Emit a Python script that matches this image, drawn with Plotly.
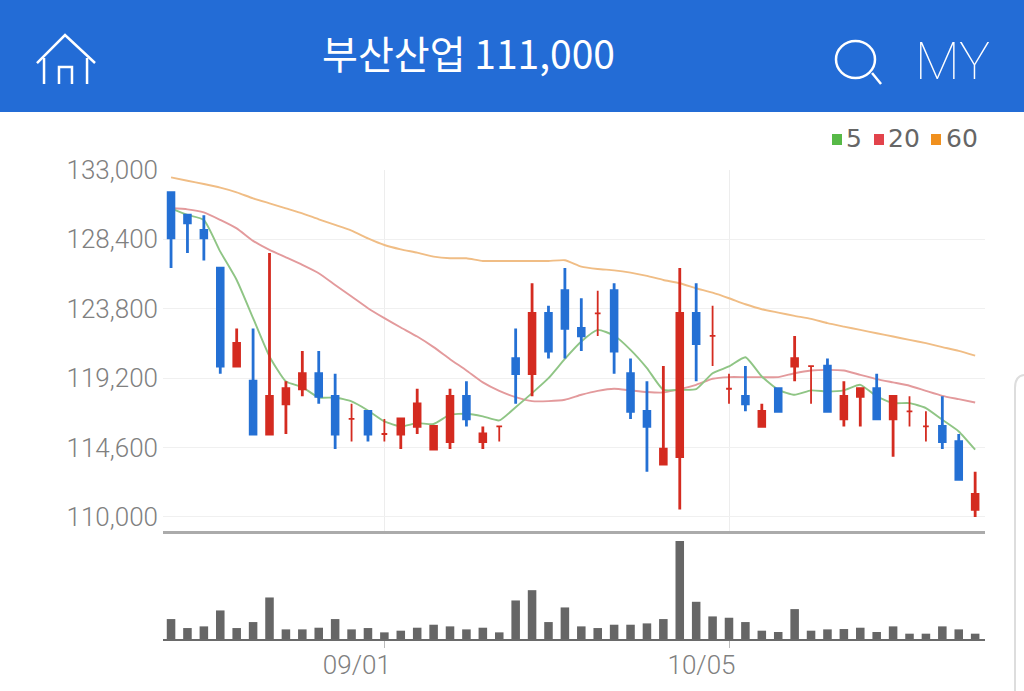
import plotly.graph_objs as go

W, H = 1024, 691

dates = ["08/12", "08/13", "08/14", "08/18", "08/19", "08/20", "08/21", "08/24", "08/25", "08/26",
         "08/27", "08/28", "08/31", "09/01", "09/02", "09/03", "09/04", "09/07", "09/08", "09/09",
         "09/10", "09/11", "09/14", "09/15", "09/16", "09/17", "09/18", "09/21", "09/22", "09/23",
         "09/24", "09/25", "09/28", "09/29", "10/05", "10/06", "10/07", "10/08", "10/12", "10/13",
         "10/14", "10/15", "10/16", "10/19", "10/20", "10/21", "10/22", "10/23", "10/26", "10/27"]

opens = [131500, 130000, 129000, 126500, 120000, 119000, 115500, 117500, 118500, 119500,
         118000, 116500, 117000, 115500, 115500, 116000, 114500, 115000, 118000, 115000,
         116000, 120500, 119500, 123500, 125000, 122500, 123500, 125000, 119500, 117000,
         113500, 114000, 123500, 122000, 118500, 118000, 116000, 118500, 120000, 120000,
         120000, 116500, 118000, 118500, 116500, 117000, 116000, 116000, 115000, 110500]
highs = [131500, 130000, 130000, 126500, 122500, 122500, 127500, 119000, 121000, 121000,
         119500, 117500, 117000, 116500, 116500, 118500, 116000, 118500, 119000, 116000,
         116000, 122500, 125500, 124000, 126500, 124500, 125000, 125500, 120500, 119000,
         120000, 126500, 125500, 124000, 119500, 120000, 117500, 118500, 122000, 120000,
         120500, 119000, 118500, 119500, 118000, 118000, 117000, 118000, 115500, 113000]
lows = [126500, 127500, 127000, 119500, 120000, 115500, 115500, 115500, 118000, 117500,
        114500, 115000, 115000, 115000, 114500, 115500, 114500, 114500, 116000, 114500,
        115000, 117500, 118000, 120500, 120500, 121000, 122000, 119500, 116500, 113000,
        113500, 110500, 119000, 120000, 117500, 117000, 116000, 117000, 119000, 117500,
        117000, 116000, 116000, 116500, 114000, 116000, 115000, 114500, 112500, 110000]
closes = [128500, 129500, 128500, 120000, 121500, 115500, 118000, 118500, 119500, 118000,
          115500, 116500, 115500, 115500, 116500, 117500, 116000, 118000, 116500, 115500,
          116000, 119500, 123500, 121000, 122500, 122000, 123500, 121000, 117000, 116000,
          114500, 123500, 121500, 122000, 118500, 117500, 117000, 117000, 120500, 120000,
          117000, 118000, 118500, 116500, 118000, 117000, 116000, 115000, 112500, 111500]

ma5 = [130460, 130020, 129690, 127590, 125710, 123180, 120640, 118980, 118610, 117920,
       117920, 117660, 117060, 116330, 116000, 116220, 116160, 116780, 116840, 116670,
       116400, 117280, 118210, 119200, 120480, 121630, 122400, 122030, 121080, 119870,
       118430, 118430, 118470, 119530, 119980, 120590, 119310, 118430, 118100, 118390,
       118320, 118390, 118760, 117990, 117550, 117550, 117220, 116440, 115670, 114460]
ma20 = [130460, 130390, 130190, 129690, 129130, 128300, 127700, 127210, 126710, 126160,
        125380, 124610, 123840, 123180, 122560, 121960, 121260, 120460, 119710, 118920,
        118360, 117950, 117680, 117680, 117770, 118100, 118360, 118500, 118390, 118280,
        118250, 118470, 118760, 119160, 119270, 119270, 119270, 119270, 119530, 119710,
        119750, 119710, 119420, 119140, 118920, 118700, 118360, 118030, 117810, 117590]
ma60 = [132510, 132290, 132070, 131830, 131520, 131120, 130790, 130460, 130130, 129730,
        129360, 128980, 128470, 128030, 127740, 127520, 127260, 127150, 127150, 126970,
        126970, 126970, 126970, 126970, 127020, 126600, 126440, 126350, 126200, 125980,
        125710, 125490, 125160, 124870, 124500, 124100, 123770, 123550, 123330, 123130,
        122850, 122620, 122400, 122180, 121960, 121740, 121520, 121260, 121010, 120700]
volumes = [60, 33, 38, 86, 33, 51, 125, 29, 29, 34, 60, 29, 33, 20, 25, 34, 43, 38, 29, 34,
           20, 116, 147, 51, 95, 38, 33, 43, 43, 47, 60, 295, 112, 68, 64, 51, 25, 21, 90, 25,
           29, 30, 34, 21, 38, 16, 16, 38, 29, 16]

price_ticks = [110000, 114600, 119200, 123800, 128400, 133000]
date_ticks = ["09/01", "10/05"]

BLUE = "#2470d4"
RED = "#d42b20"
PRICE_RANGE = [109070, 133000]
X_RANGE = [-0.49, 49.6]


def fx(px):
    return px / W


def fy(px):
    return 1 - px / H


fig = go.Figure()

for name, vals, color in [("60", ma60, "#f0bd85"), ("20", ma20, "#e39a9c"), ("5", ma5, "#8fc585")]:
    fig.add_trace(go.Scatter(x=dates, y=vals, name=name, mode="lines",
                             line=dict(color=color, width=1.9, shape="spline", smoothing=0.5),
                             hoverinfo="skip"))

# red = rose, blue = fell (Korean colours); flat days get a thin red cross
kinds = [
    (lambda o, c: c > o, RED, 2.8),
    (lambda o, c: c < o, BLUE, 2.8),
    (lambda o, c: c == o, RED, 1.8),
]
for test, color, width in kinds:
    idx = [i for i in range(len(dates)) if test(opens[i], closes[i])]
    fig.add_trace(go.Candlestick(
        x=[dates[i] for i in idx], open=[opens[i] for i in idx], high=[highs[i] for i in idx],
        low=[lows[i] for i in idx], close=[closes[i] for i in idx],
        yaxis="y3", whiskerwidth=0,
        increasing=dict(line=dict(color=color, width=width), fillcolor=color),
        decreasing=dict(line=dict(color=color, width=width), fillcolor=color),
    ))

fig.add_trace(go.Bar(x=dates, y=volumes, xaxis="x2", yaxis="y2", width=0.52,
                     marker=dict(color="#666666", line=dict(width=0))))

tick_font = dict(family="Roboto", size=26, color="#808080", weight=300)

# header bar and icons, all in page pixels
shapes = [
    dict(type="rect", xref="paper", yref="paper", x0=0, x1=1, y0=fy(112), y1=1,
         fillcolor="#236cd6", line_width=0, layer="below"),
]
white = dict(color="white", width=2.5)
home = [(37, 63), (65, 35), (95, 63)]
lines = [
    [(44, 58), (44, 84)], [(87, 58), (87, 84)], [(59, 84), (59, 67), (72, 67), (72, 84)],
    [(872, 73), (881, 84)], home,
]
for pts in lines:
    path = "M " + " L ".join("%.4f,%.4f" % (fx(a), fy(b)) for a, b in pts)
    shapes.append(dict(type="path", path=path, line=white, xref="paper", yref="paper"))
shapes.append(dict(type="circle", xref="paper", yref="paper", x0=fx(836), x1=fx(875),
                   y0=fy(78), y1=fy(41), line=white))
# legend squares
for x0, color in [(832, "#57b947"), (874, "#e2434b"), (931, "#f0901e")]:
    shapes.append(dict(type="rect", xref="paper", yref="paper", x0=fx(x0), x1=fx(x0 + 10),
                       y0=fy(145), y1=fy(134), fillcolor=color, line_width=0))
# scrollbar edge at the right of the page
shapes.append(dict(type="path", xref="paper", yref="paper", line=dict(color="#dddddd", width=2),
                   path="M %.4f,%.4f Q %.4f,%.4f %.4f,%.4f L %.4f,%.4f" % (
                       fx(1024), fy(375), fx(1015), fy(376), fx(1015), fy(388), fx(1015), fy(691))))

annotations = [
    dict(text="부산산업 111,000", x=fx(468), y=fy(52), font=dict(family="Noto Sans CJK KR", size=39, color="white")),
    dict(text="MY", x=fx(952), y=fy(61), font=dict(family="Roboto", size=52, color="white", weight=100)),
]
for label, px in [("5", 854), ("20", 904), ("60", 962)]:
    annotations.append(dict(text=label, x=fx(px), y=fy(139), font=dict(family="DejaVu Sans", size=25, color="#666666")))
for a in annotations:
    a.update(xref="paper", yref="paper", showarrow=False, xanchor="center", yanchor="middle")

fig.update_layout(
    width=W, height=H,
    margin=dict(l=0, r=0, t=0, b=0),
    paper_bgcolor="white", plot_bgcolor="white",
    showlegend=False,
    boxgap=0.5,
    shapes=shapes,
    annotations=annotations,
    xaxis=dict(
        domain=[fx(163), fx(985)], anchor="y", type="category", automargin=False,
        categoryorder="array", categoryarray=dates, range=X_RANGE,
        rangeslider=dict(visible=False),
        tickvals=date_ticks, showticklabels=False, ticks="",
        showgrid=True, gridcolor="#ededed", gridwidth=1,
        showline=True, linecolor="#ababab", linewidth=3, zeroline=False,
    ),
    yaxis=dict(
        domain=[fy(531), fy(170)], anchor="x", range=PRICE_RANGE, automargin=False,
        tickvals=price_ticks, tickformat=",d", tickfont=tick_font,
        showgrid=True, gridcolor="#f0f0f0", gridwidth=1, zeroline=False,
        ticks="", ticklabelstandoff=4,
    ),
    yaxis3=dict(domain=[fy(531), fy(170)], anchor="x", overlaying="y", range=PRICE_RANGE, visible=False),
    xaxis2=dict(
        domain=[fx(163), fx(985)], anchor="y2", type="category", automargin=False,
        categoryorder="array", categoryarray=dates, range=X_RANGE,
        tickvals=date_ticks, tickfont=tick_font, ticks="outside", ticklen=7,
        ticklabelposition="outside left", ticklabelshift=8, ticklabelstandoff=2,
        tickcolor="#bbbbbb", tickwidth=1, showgrid=False,
        showline=True, linecolor="#6a6a6a", linewidth=2, zeroline=False,
    ),
    yaxis2=dict(domain=[fy(639), fy(541)], anchor="x2", range=[0, 295], visible=False),
)

fig.write_html("out.html", config=dict(displayModeBar=False), post_script="document.body.style.margin='0'")
